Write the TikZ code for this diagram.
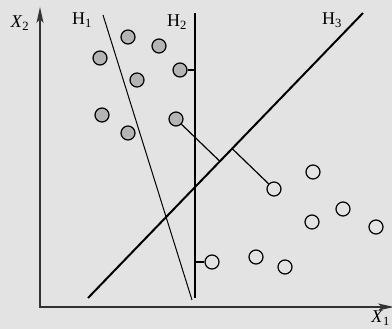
\documentclass[tikz,border=0pt]{standalone}
\usepackage{fontspec}
\setmainfont{Liberation Serif}
\usetikzlibrary{arrows.meta, calc, positioning}
\definecolor{bggray}{HTML}{E3E3E3}
\definecolor{ptgray}{HTML}{B4B4B4}
\definecolor{axisgray}{HTML}{333333}

\begin{document}
\begin{tikzpicture}[x=1pt, y=-1pt,
    graypt/.style={circle, draw, fill=ptgray, minimum size=14pt, inner sep=0pt, line width=1.2pt},
    whitept/.style={circle, draw, minimum size=14pt, inner sep=0pt, line width=1.2pt},
    axis/.style={draw=axisgray, line width=1.6pt, {Stealth[length=16pt,width=7pt,inset=4pt]}-{Stealth[length=16pt,width=7pt,inset=4pt]}},
    hyper/.style={draw, line width=1pt},
    edge/.style={draw, line width=1.2pt},
    lbl/.style={font=\fontsize{18}{20}\selectfont, inner sep=0pt}
]
    \fill[bggray] (0,0) rectangle (392,329);
    \useasboundingbox (0,0) rectangle (392,329);

    % axes
    \coordinate (org) at (40,307);
    \coordinate (ytip) at (40,7);
    \coordinate (xtip) at (394,307);
    \draw[axis] (ytip) -- (org) -- (xtip);
    \node[lbl] (xtwo) at (20,23) {\textit{X}\textsubscript{2}};
    \node[lbl, anchor=east] (xone) at (390,318) {\textit{X}\textsubscript{1}};

    % hyperplanes
    \coordinate (h1a) at (103,15);
    \coordinate (h1b) at (192,300);
    \coordinate (h2a) at (195,13);
    \coordinate (h2b) at (195,298);
    \coordinate (h3a) at (363,13);
    \coordinate (h3b) at (88,298);
    \draw[hyper] (h1a) -- (h1b);
    \draw[hyper, line width=1.1pt] (h2a) -- (h2b);
    \draw[hyper, line width=2pt] (h3a) -- (h3b);
    \node[lbl] (lh1) at (82,20) {H\textsubscript{1}};
    \node[lbl] (lh2) at (177,22) {H\textsubscript{2}};
    \node[lbl] (lh3) at (332,20) {H\textsubscript{3}};

    % class one
    \node[graypt] (ga) at (100,58) {};
    \node[graypt] (gb) at (128,37) {};
    \node[graypt] (gc) at (159,46) {};
    \node[graypt] (gd) at (137,80) {};
    \node[graypt] (ge) at (180,70) {};
    \node[graypt] (gf) at (102,115) {};
    \node[graypt] (gg) at (128,133) {};
    \node[graypt] (gh) at (176,119) {};

    % class two
    \node[whitept] (wa) at (274,189) {};
    \node[whitept] (wb) at (313,172) {};
    \node[whitept] (wc) at (343,209) {};
    \node[whitept] (wd) at (312,222) {};
    \node[whitept] (we) at (376,227) {};
    \node[whitept] (wf) at (212,262) {};
    \node[whitept] (wg) at (256,257) {};
    \node[whitept] (wh) at (285,267) {};

    % distances to the hyperplanes
    \draw[edge] (ge) -- (ge -| h2a);
    \draw[edge] (wf) -- (wf -| h2a);
    \draw[edge] (gh) -- ($(h3a)!(gh)!(h3b)$);
    \draw[edge] (wa) -- ($(h3a)!(wa)!(h3b)$);
\end{tikzpicture}
\end{document}
